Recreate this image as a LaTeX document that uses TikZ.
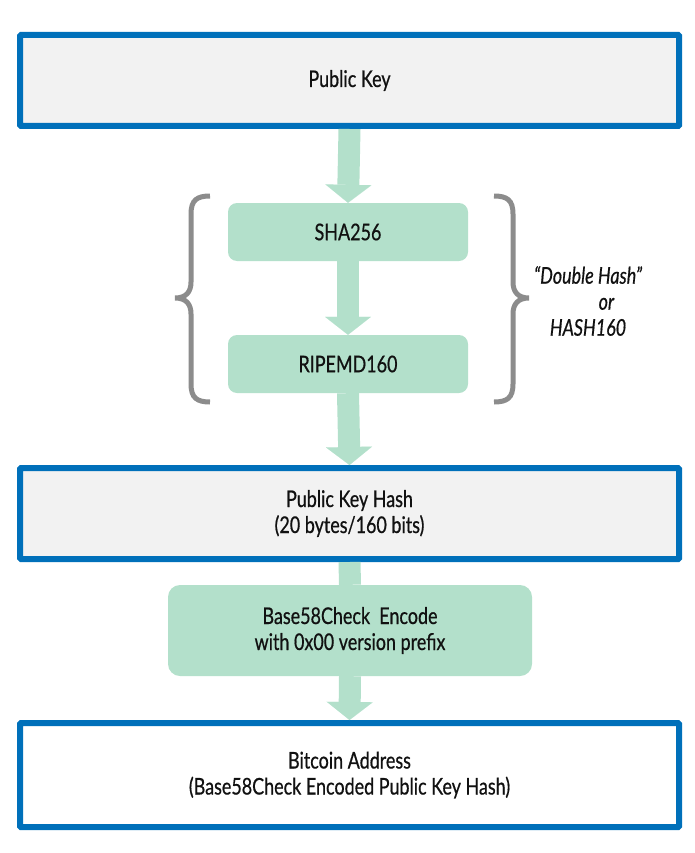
\documentclass[tikz,border=0pt]{standalone}
\usepackage{fontspec}
\setmainfont{Lato}[FakeStretch=0.78, FakeBold=0.6]
\usetikzlibrary{arrows.meta}

\definecolor{keyblue}{HTML}{0070BA}
\definecolor{boxgray}{HTML}{F2F2F2}
\definecolor{hashgreen}{HTML}{B3E0CB}
\definecolor{bracegray}{HTML}{8C8C8C}
\definecolor{inkblack}{HTML}{111111}

\tikzset{
  keybox/.style={draw=keyblue, line width=6pt, fill=boxgray, rounded corners=1pt,
    minimum width=659pt, minimum height=91pt, align=center, text=inkblack},
  hashbox/.style={fill=hashgreen, rounded corners=9pt, minimum width=240pt,
    minimum height=58pt, align=center, text=inkblack},
  flow/.style={draw=hashgreen, line width=22pt,
    -{Triangle[length=18pt, width=46pt, line width=0.01pt]}},
  flowline/.style={draw=hashgreen, line width=22pt},
  hashbrace/.style={draw=bracegray, line width=5pt},
  hashnote/.style={align=center, font=\fontsize{23}{26}\selectfont\itshape, text=inkblack}
}

\begin{document}
\begin{tikzpicture}[x=1pt, y=-1pt, every node/.style={font=\fontsize{23}{26}\selectfont}]
\path[use as bounding box] (0,0) rectangle (695,853);

% boxes
\node[keybox] (pubkey) at (349.5,80.5) {Public Key};
\node[hashbox] (sha) at (348,232) {SHA256};
\node[hashbox] (ripemd) at (348,364) {RIPEMD160};
\node[keybox] (pkh) at (349.5,513.5) {Public Key Hash\\(20 bytes/160 bits)};
\node[hashbox, minimum width=364pt, minimum height=91pt, rounded corners=12pt]
  (base) at (350,630.5) {Base58Check~ Encode\\with 0x00 version prefix};
\node[keybox, fill=white, minimum height=104pt] (addr) at (349.5,775)
  {Bitcoin Address\\(Base58Check Encoded Public Key Hash)};

% arrows
\draw[flow] (pubkey.south) -- (sha.north);
\draw[flow] (sha.south) -- (ripemd.north);
\draw[flow] (ripemd.south) -- (pkh.north);
\draw[flowline] (pkh.south) -- (base.north);
\draw[flow] (base.south) -- (addr.north);

% braces
\draw[hashbrace] (210,196) .. controls (197,196) and (191,200) .. (191,214) -- (191,282)
  .. controls (191,292) and (186,298) .. (175,298)
  .. controls (186,298) and (191,304) .. (191,314) -- (191,384)
  .. controls (191,398) and (197,402) .. (210,402);
\draw[hashbrace] (494,196) .. controls (507,196) and (513,200) .. (513,214) -- (513,282)
  .. controls (513,292) and (518,298) .. (529,298)
  .. controls (518,298) and (513,304) .. (513,314) -- (513,384)
  .. controls (513,398) and (507,402) .. (494,402);

\node[hashnote] (twohash) at (588,301) {``Double Hash''\\\hspace*{1.6em}or\\HASH160};
\end{tikzpicture}
\end{document}
